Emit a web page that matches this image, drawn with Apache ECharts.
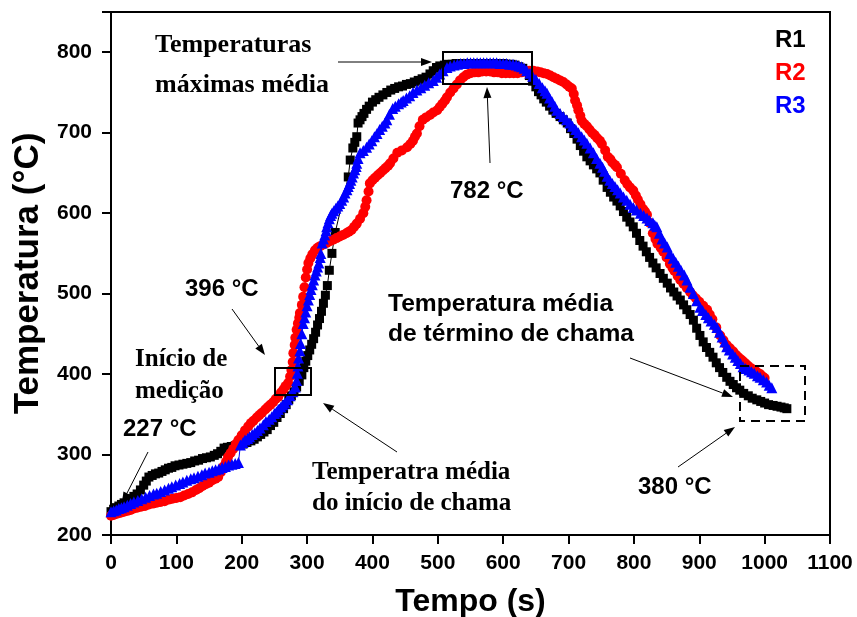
<!DOCTYPE html>
<html>
<head>
<meta charset="utf-8">
<script src="https://cdn.jsdelivr.net/npm/echarts@6/dist/echarts.min.js"></script>
<style>
html,body{margin:0;padding:0;background:#fff;}
#chart{width:857px;height:617px;}
</style>
</head>
<body>
<div id="chart"></div>
<script>
// ---- data: [time (s), temperature (°C)] ----
const xTicks = [0,100,200,300,400,500,600,700,800,900,1000,1100];
const yTicks = [200,300,400,500,600,700,800];

const r1Data = [[0,229],[4,232],[8,234],[12,236],[16,238],[20,240],[25,242],[30,245],[35,248],[40,251],[45,256],[50,262],[54,267],[58,272],[63,274],[68,276],[73,277],[78,279],[83,281],[88,283],[93,284],[98,286],[104,287],[110,288],[116,289],[122,290],[128,292],[134,293],[140,295],[146,296],[152,297],[158,299],[163,301],[168,304],[173,308],[178,309],[184,310],[190,311],[196,312],[202,313],[208,315],[214,317],[219,319],[224,322],[229,325],[234,328],[239,331],[244,336],[249,340],[254,346],[259,351],[264,357],[268,362],[272,368],[276,373],[280,378],[284,384],[288,391],[292,399],[295,408],[298,416],[301,423],[304,430],[307,437],[310,444],[313,452],[316,461],[319,469],[322,478],[325,488],[328,498],[331,510],[334,529],[338,550],[343,576],[363,645],[366,666],[370,681],[373,688],[376,695],[378,712],[381,716],[384,720],[387,724],[391,729],[395,733],[400,738],[405,741],[410,744],[416,747],[422,750],[428,753],[434,755],[440,757],[446,758],[452,760],[458,761],[464,763],[470,765],[476,767],[482,769],[488,773],[493,777],[498,781],[503,783],[510,784],[516,785],[522,785],[528,786],[534,786],[540,786],[546,786],[552,786],[558,786],[564,786],[570,786],[576,786],[582,786],[588,786],[594,786],[600,786],[606,785],[612,785],[618,784],[624,782],[630,780],[635,776],[640,771],[645,764],[650,757],[654,751],[658,747],[662,742],[666,738],[671,733],[676,728],[681,724],[687,720],[692,716],[698,712],[703,705],[708,699],[713,692],[718,684],[723,677],[728,670],[733,665],[738,660],[743,655],[748,650],[753,641],[759,632],[764,626],[769,620],[774,615],[779,609],[784,602],[789,595],[794,589],[799,583],[804,575],[809,566],[814,559],[819,552],[824,545],[829,538],[834,532],[840,525],[845,519],[851,513],[856,507],[861,502],[866,497],[871,492],[876,486],[881,480],[886,474],[891,467],[896,457],[901,448],[906,440],[911,433],[916,427],[921,421],[926,414],[931,408],[936,402],[942,396],[947,391],[952,387],[957,383],[962,380],[968,376],[975,373],[981,370],[988,368],[994,366],[1000,364],[1006,362],[1013,361],[1019,360],[1025,359],[1030,358],[1034,357]];

const r2Data = [[0,224],[4,225],[8,226],[12,227],[16,228],[20,229],[25,230],[30,231],[35,233],[40,234],[46,235],[52,236],[58,238],[64,239],[70,240],[76,241],[82,242],[88,244],[94,245],[100,246],[106,247],[112,249],[118,251],[124,253],[130,256],[135,258],[140,261],[145,263],[150,265],[155,268],[160,270],[164,272],[168,278],[172,285],[176,291],[179,297],[183,302],[187,307],[191,313],[195,318],[200,324],[205,330],[210,335],[214,339],[218,342],[223,346],[227,349],[231,352],[236,356],[240,359],[244,362],[248,365],[252,369],[256,372],[260,377],[264,381],[267,385],[271,389],[274,397],[276,405],[278,415],[279,426],[281,436],[282,445],[284,455],[286,463],[288,470],[289,476],[292,486],[294,496],[296,508],[298,520],[300,530],[302,538],[305,544],[308,549],[312,554],[316,557],[320,559],[325,561],[330,563],[335,565],[340,567],[345,569],[350,571],[355,573],[360,575],[364,577],[368,579],[372,583],[376,587],[381,593],[386,600],[389,608],[391,616],[394,627],[396,637],[400,641],[404,644],[408,647],[412,650],[416,653],[420,656],[424,659],[427,662],[432,668],[438,675],[445,678],[453,682],[458,686],[462,690],[465,695],[468,699],[472,708],[477,716],[482,719],[488,722],[493,725],[499,728],[503,732],[507,736],[511,740],[514,744],[519,750],[524,755],[529,760],[534,765],[539,769],[544,772],[550,774],[556,775],[562,775],[568,776],[574,776],[580,776],[586,775],[592,775],[598,774],[604,774],[610,774],[616,774],[622,774],[628,775],[634,776],[640,777],[646,777],[652,776],[657,775],[662,774],[667,773],[672,771],[677,769],[682,767],[687,765],[692,763],[697,760],[701,757],[705,755],[708,748],[710,740],[713,734],[715,728],[718,721],[720,715],[724,711],[728,708],[732,704],[736,700],[740,697],[744,693],[748,690],[751,686],[756,678],[760,670],[764,667],[767,663],[771,660],[774,657],[780,649],[786,641],[790,636],[794,632],[799,628],[803,622],[806,617],[810,611],[814,605],[817,602],[820,598],[824,588],[829,575],[833,568],[836,562],[841,557],[845,552],[850,545],[855,537],[859,532],[862,528],[867,522],[871,517],[876,512],[881,507],[886,502],[890,498],[895,494],[900,490],[906,485],[912,480],[916,474],[920,468],[926,458],[932,448],[937,442],[942,436],[947,432],[952,428],[956,424],[960,421],[964,418],[967,416],[971,413],[975,410],[980,407],[985,405],[989,402],[993,400],[997,397],[1000,395]];

const r3Data = [[0,229],[4,230],[8,231],[12,233],[16,234],[20,235],[25,237],[30,239],[35,241],[41,243],[47,245],[53,247],[59,249],[65,251],[70,252],[76,254],[82,256],[88,258],[93,260],[99,262],[105,264],[110,266],[116,268],[122,270],[127,271],[133,273],[139,275],[144,277],[150,278],[155,280],[160,281],[165,282],[170,284],[175,285],[180,287],[185,288],[190,289],[195,290],[198,312],[202,315],[205,318],[209,320],[212,322],[216,325],[220,327],[224,330],[228,333],[233,337],[237,341],[242,344],[246,347],[250,351],[253,353],[256,356],[260,359],[263,362],[266,364],[270,368],[274,373],[278,378],[282,384],[284,392],[285,401],[286,410],[287,420],[289,429],[290,438],[292,450],[294,463],[296,470],[298,477],[300,485],[302,492],[304,499],[306,505],[308,511],[310,517],[312,523],[314,528],[316,533],[318,538],[320,545],[321,550],[323,563],[325,568],[327,573],[329,578],[330,583],[332,588],[334,593],[336,597],[338,600],[341,603],[344,606],[347,609],[350,612],[353,616],[356,620],[358,625],[361,629],[363,633],[365,637],[367,641],[369,645],[371,650],[373,654],[375,658],[376,662],[378,668],[381,675],[386,678],[391,682],[395,686],[399,690],[403,695],[407,699],[411,704],[415,708],[419,712],[422,716],[426,723],[431,730],[435,733],[440,736],[444,738],[447,740],[452,743],[457,746],[462,750],[468,753],[474,756],[480,759],[486,762],[493,765],[498,769],[503,773],[508,777],[514,781],[519,783],[525,784],[530,785],[535,786],[540,786],[545,787],[550,787],[555,787],[560,787],[565,787],[570,787],[575,787],[580,787],[585,787],[590,787],[595,786],[600,786],[605,786],[610,785],[615,785],[620,784],[624,783],[628,782],[632,780],[636,777],[641,774],[645,770],[650,766],[655,761],[660,756],[664,752],[667,749],[671,743],[675,738],[679,733],[682,728],[687,724],[692,720],[697,716],[702,712],[706,708],[711,704],[715,700],[720,695],[724,691],[728,687],[733,681],[738,675],[743,668],[748,662],[752,657],[755,652],[759,646],[763,641],[767,637],[771,633],[775,629],[779,625],[784,620],[789,616],[794,611],[799,607],[804,604],[810,600],[815,597],[820,594],[824,591],[829,588],[832,585],[835,583],[839,575],[843,568],[847,563],[851,558],[855,550],[860,544],[864,539],[868,534],[872,529],[877,523],[881,517],[886,508],[891,500],[896,491],[901,483],[905,479],[910,474],[914,470],[918,466],[923,462],[927,458],[931,452],[935,446],[939,440],[942,434],[946,430],[951,425],[955,421],[959,417],[963,413],[967,409],[971,407],[976,405],[980,403],[984,401],[989,398],[993,396],[998,393],[1003,390],[1007,386],[1011,383]];

const seriesNames = ['R1','R2','R3'];
const seriesColors = ['#000000','#ff0000','#0000ff'];
const seriesData = [r1Data, r2Data, r3Data];

// ---- annotation helpers (layout only) ----
const SANS = '"Liberation Sans", Arial, sans-serif';
const SERIF = '"Liberation Serif", "Times New Roman", serif';
function txt(s, x, baseline, size, family){
  const k = family===SERIF ? 0.305 : 0.31;
  return {type:'text', z:100, x:x, y:baseline - k*size,
    style:{text:s, fill:'#000', font:'bold '+size+'px '+family,
      align:'left', verticalAlign:'middle', textAlign:'left', textVerticalAlign:'middle'}};
}
function arrow(x1,y1,x2,y2){
  const a=Math.atan2(y2-y1,x2-x1), c=Math.cos(a), s=Math.sin(a);
  const L=11, W=4;
  const bx=x2-L*c, by=y2-L*s;
  return [
    {type:'line', z:100, shape:{x1:x1,y1:y1,x2:bx,y2:by}, style:{stroke:'#000',lineWidth:1}},
    {type:'polygon', z:100, shape:{points:[[x2,y2],[bx-s*W,by+c*W],[bx+s*W,by-c*W]]}, style:{fill:'#000'}}
  ];
}
function rect(x1,y1,x2,y2,dash){
  return {type:'rect', z:100, shape:{x:x1,y:y1,width:x2-x1,height:y2-y1},
    style:{fill:'none', stroke:'#000', lineWidth:2, lineDash: dash ? [9,6] : null}};
}

const graphics = [].concat(
  [txt('Temperaturas',155,53,26,SERIF), txt('máximas média',155,93,26,SERIF)],
  arrow(338,62,432,62),
  [rect(443,52,532,84,false)],
  arrow(490,163,487,87),
  [txt('782 °C',450,199,24,SANS)],
  [txt('396 °C',185,297,24,SANS)],
  arrow(232,309,265,355),
  [rect(275,368,311,395,false)],
  [txt('Início de',135,367,25,SERIF), txt('medição',135,399,25,SERIF)],
  [txt('227 °C',123,437,24,SANS)],
  arrow(148,452,122,503),
  [txt('Temperatra média',312,480,25,SERIF), txt('do início de chama',312,511,25,SERIF)],
  arrow(397,452,323,403),
  [txt('Temperatura média',388,312,24.6,SANS), txt('de término de chama',388,342,24.6,SANS)],
  arrow(630,358,733,397),
  [rect(740,366,805,421,true)],
  arrow(678,467,735,427),
  [txt('380 °C',638,495,24,SANS)]
);

const chart = echarts.init(document.getElementById('chart'), null, {renderer:'canvas'});
const symbols = ['rect','circle','triangle'];
const sizes = [9,10,11];

chart.setOption({
  animation:false,
  backgroundColor:'#fff',
  grid:{left:111, right:27, top:12, bottom:82, containLabel:false, outerBoundsMode:'none',
    show:true, borderColor:'#000', borderWidth:2, backgroundColor:'transparent'},
  legend:{
    orient:'vertical', left:757, top:23, itemGap:9, itemWidth:8, itemHeight:8, selectedMode:false,
    data: seriesNames.map((n,i)=>({name:n, icon:'none', textStyle:{color:seriesColors[i], fontSize:24, fontWeight:'bold', fontFamily:SANS}}))
  },
  xAxis:{
    type:'value', min:xTicks[0], max:xTicks[xTicks.length-1], interval:100,
    name:'Tempo (s)', nameLocation:'middle', nameGap:51,
    nameTextStyle:{fontSize:32, fontWeight:'bold', fontFamily:SANS, color:'#000'},
    axisLine:{show:true, onZero:false, lineStyle:{color:'#000', width:2}},
    axisTick:{show:true, inside:false, length:9, lineStyle:{color:'#000', width:2}},
    axisLabel:{margin:18, fontSize:21, fontWeight:'bold', fontFamily:SANS, color:'#000',
      formatter:(v)=> xTicks.indexOf(v)>=0 ? String(v) : ''},
    splitLine:{show:false}
  },
  yAxis:{
    type:'value', min:200, max:850, interval:100,
    name:'Temperatura (°C)', nameLocation:'middle', nameGap:52, nameRotate:90,
    nameTextStyle:{fontSize:35, fontWeight:'bold', fontFamily:SANS, color:'#000'},
    axisLine:{show:true, onZero:false, lineStyle:{color:'#000', width:2}},
    axisTick:{show:true, inside:false, length:9, lineStyle:{color:'#000', width:2}},
    axisLabel:{margin:19, fontSize:21, fontWeight:'bold', fontFamily:SANS, color:'#000',
      formatter:(v)=> yTicks.indexOf(v)>=0 ? String(v) : ''},
    splitLine:{show:false}
  },
  series: seriesNames.map((n,i)=>({
    name:n, type:'line', data:seriesData[i], symbol:symbols[i], symbolSize:sizes[i], showAllSymbol:true,
    itemStyle:{color:seriesColors[i]}, lineStyle:{color:seriesColors[i], width:1}, z:2+i
  })),
  graphic: graphics
});
</script>
</body>
</html>
